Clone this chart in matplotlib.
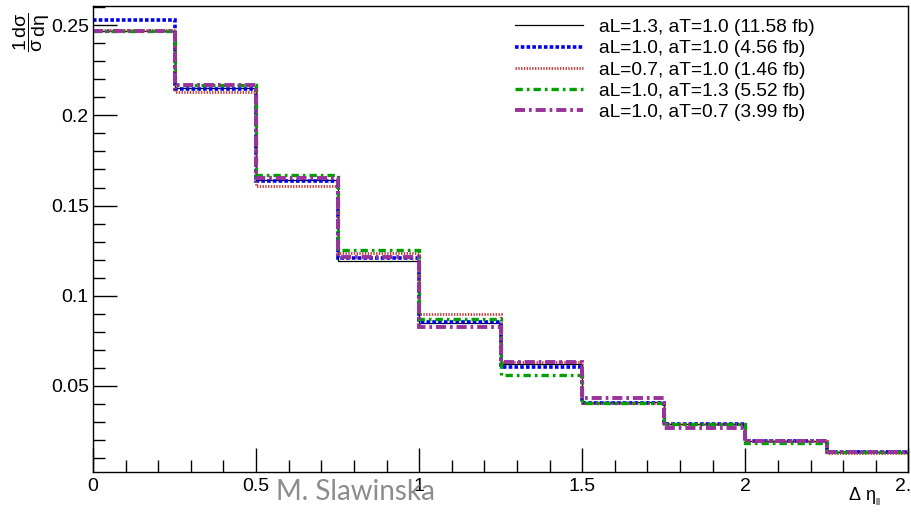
import matplotlib.pyplot as plt
from matplotlib.ticker import MultipleLocator

plt.rcParams['font.family'] = ['Liberation Sans', 'DejaVu Sans']
plt.rcParams['mathtext.fontset'] = 'custom'
plt.rcParams['mathtext.rm'] = 'Liberation Sans'
plt.rcParams['mathtext.it'] = 'Liberation Sans'

edges = [0.0, 0.25, 0.5, 0.75, 1.0, 1.25, 1.5, 1.75, 2.0, 2.25, 2.5]
labels = ['aL=1.3, aT=1.0 (11.58 fb)', 'aL=1.0, aT=1.0 (4.56 fb)',
          'aL=0.7, aT=1.0 (1.46 fb)', 'aL=1.0, aT=1.3 (5.52 fb)',
          'aL=1.0, aT=0.7 (3.99 fb)']
h_13_10 = [0.247, 0.215, 0.164, 0.119, 0.085, 0.062, 0.041, 0.029, 0.0194, 0.0133]
h_10_10 = [0.2528, 0.2144, 0.1635, 0.121, 0.0856, 0.0602, 0.0407, 0.029, 0.0194, 0.0133]
h_07_10 = [0.2475, 0.2128, 0.1607, 0.1237, 0.0898, 0.0633, 0.0407, 0.029, 0.0194, 0.0125]
h_10_13 = [0.247, 0.217, 0.1671, 0.1254, 0.0871, 0.0561, 0.0407, 0.029, 0.0185, 0.013]
h_10_07 = [0.2468, 0.2167, 0.165, 0.1213, 0.0828, 0.0633, 0.043, 0.0268, 0.0194, 0.0133]

fig = plt.figure(figsize=(9.12, 5.13), dpi=100)
ax = fig.add_axes([0.102, 0.08, 0.894, 0.908])

styles = [
    dict(color='black', lw=0.9, ls='-'),
    dict(color='#0000ee', lw=2.6, ls=(0, (1, 0.6))),
    dict(color='#c04040', lw=2.0, ls=(0, (0.5, 0.5))),
    dict(color='#00a000', lw=2.4, ls=(0, (2.2, 1.2, 0.8, 1.2))),
    dict(color='#993399', lw=2.8, ls=(0, (2.6, 1.0, 0.7, 1.0))),
]
for h, lb, st in zip([h_13_10, h_10_10, h_07_10, h_10_13, h_10_07], labels, styles):
    ax.stairs(h, edges, baseline=None, label=lb, **st)

ax.set_xlim(0, 2.5)
ax.set_ylim(0.0022, 0.2606)
ax.set_xticks([0, 0.5, 1, 1.5, 2, 2.5])
ax.set_xticklabels(['0', '0.5', '1', '1.5', '2', '2.5'])
ax.set_yticks([0.05, 0.1, 0.15, 0.2, 0.25])
ax.set_yticklabels(['0.05', '0.1', '0.15', '0.2', '0.25'])
ax.xaxis.set_minor_locator(MultipleLocator(0.1))
ax.yaxis.set_minor_locator(MultipleLocator(0.01))
ax.tick_params(which='major', direction='in', length=17, width=1, labelsize=14, pad=4)
ax.tick_params(which='minor', direction='in', length=8.5, width=1)
ax.tick_params(axis='y', pad=3)
for sp in ax.spines.values():
    sp.set_linewidth(1)

ax.legend(loc='upper right', bbox_to_anchor=(0.90, 1.0), frameon=False, fontsize=13.8,
          handlelength=3.55, handletextpad=0.83, labelspacing=0.2, borderaxespad=0.25)

fig.text(0.035, 0.975, r'$\dfrac{1}{\sigma}\dfrac{d\sigma}{d\eta}$', rotation=90,
         fontsize=14, ha='center', va='top')
fig.text(0.965, 0.01, r'$\Delta\ \eta_{_{ll}}$', fontsize=13, ha='right', va='bottom')
fig.text(0.39, 0.04, 'M. Slawinska', family='Lato', fontsize=20, color='#8c8c8c',
         ha='center', va='center')

fig.savefig('out.png', dpi=100)
